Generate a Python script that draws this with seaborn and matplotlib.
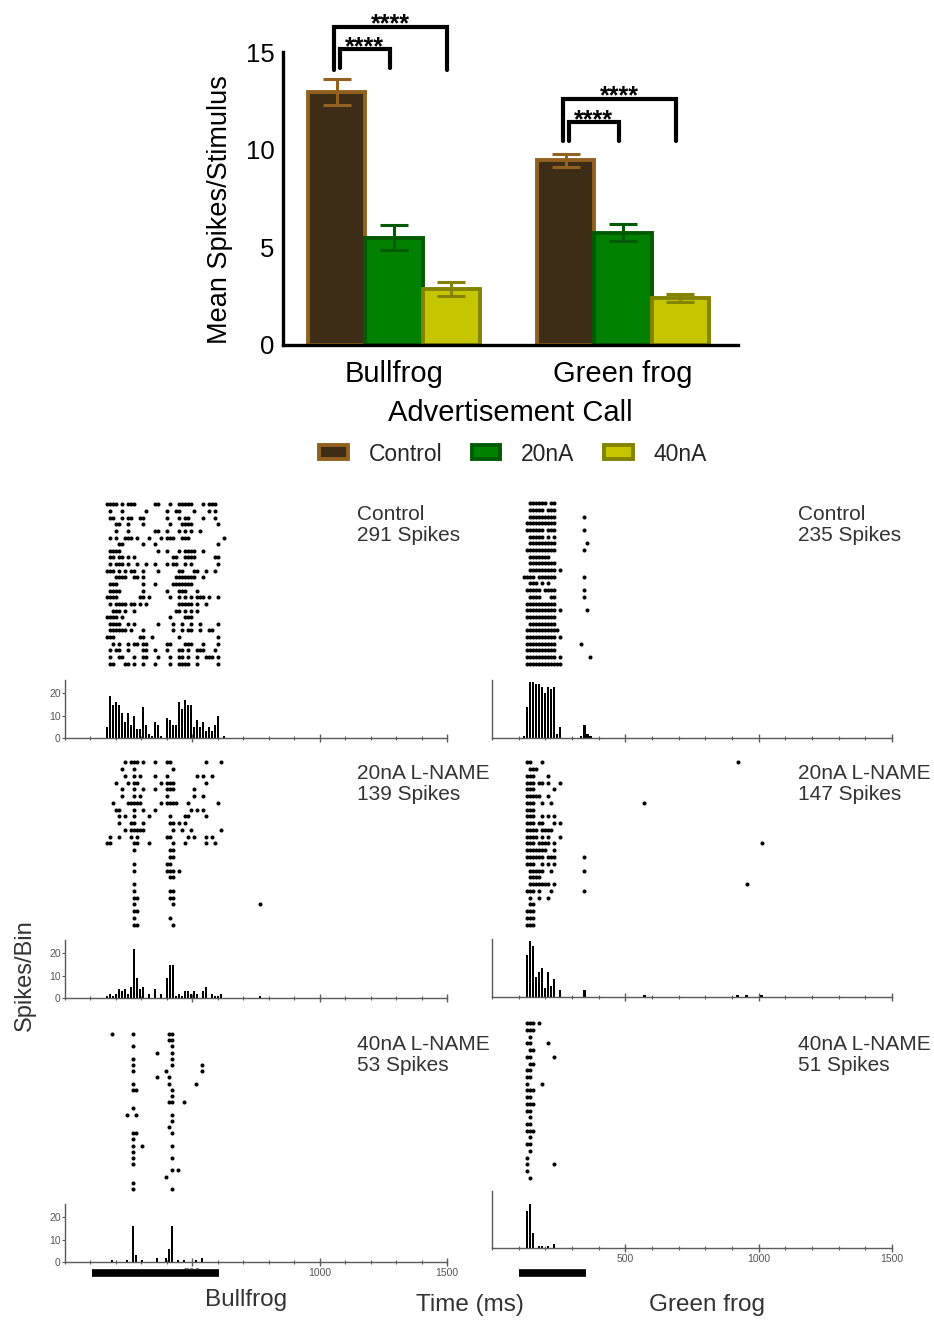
import numpy as np
import pandas as pd
import matplotlib
matplotlib.use("Agg")
import matplotlib.pyplot as plt
import matplotlib.transforms as mtransforms
from matplotlib.patches import Patch
from matplotlib.ticker import MultipleLocator, FixedLocator
import seaborn as sns

# ---------------- data: summary bar chart ----------------
CALLS = ["Bullfrog", "Green frog"]
CONDITIONS = ["Control", "20nA", "40nA"]
MEAN_CONTROL = [12.95, 9.45]
MEAN_20NA = [5.5, 5.75]
MEAN_40NA = [2.85, 2.4]
SEM_CONTROL = [0.65, 0.35]
SEM_20NA = [0.65, 0.45]
SEM_40NA = [0.35, 0.2]
SIG_TEXT = "****"
SIG_PAIRS = [(0, 1), (0, 2)]          # Control vs 20nA, Control vs 40nA
SIG_TOP = [[15.15, 16.3], [11.4, 12.6]]
SIG_LEG = [[14.2, 14.1], [10.45, 10.45]]

# ---------------- data: rasters / PSTH ----------------
TIME_TICKS = [500, 1000, 1500]
TIME_MAX = 1500
STIM_BULLFROG_MS = [105, 605]
STIM_GREENFROG_MS = [100, 352]
PANEL_TITLES = ["Control", "20nA L-NAME", "40nA L-NAME"]
SPIKES_BULLFROG = [291, 139, 53]
SPIKES_GREENFROG = [235, 147, 51]

# spike time bins per trial; time = origin + bin * bin width
BF_BIN_MS = 11.78
GF_BIN_MS = 11.28
BF_ORIGIN_MS = [129.6, 129.6, 137.4]
GF_ORIGIN_MS = [97.7, 97.7, 86.5]

BF_CONTROL = [
    [3, 4, 5, 6, 8, 10, 11, 12, 19, 20, 24, 27, 28, 29, 30, 31, 35, 37, 38, 39],
    [4, 8, 16, 23, 26, 27, 32, 37, 39],
    [4, 5, 8, 10, 11, 14, 15, 23, 27, 29, 30, 35, 39],
    [6, 7, 10, 15, 24, 28, 29, 30, 31, 40],
    [6, 10, 19, 20, 23, 27, 29, 31, 34],
    [4, 6, 9, 10, 11, 13, 17, 21, 23, 24, 25, 28, 29, 30, 42],
    [7, 8, 15, 19, 40],
    [4, 5, 6, 7, 20, 23, 27, 29, 30, 31, 32, 35],
    [4, 5, 7, 8, 10, 12, 25, 26, 29, 30, 31, 32, 39, 40],
    [4, 6, 7, 8, 10, 13, 16, 19, 23, 25, 26, 29, 31, 40],
    [3, 4, 5, 7, 9, 11, 12, 15, 20, 27, 28, 32, 33, 36, 39],
    [6, 7, 8, 9, 12, 13, 15, 26, 27, 28, 29, 30, 31, 32, 35],
    [4, 5, 6, 15, 19, 25, 26, 27, 28, 29, 30, 31],
    [4, 5, 6, 7, 15, 23, 27, 28, 29, 33],
    [3, 4, 5, 6, 14, 15, 17, 24, 27, 29, 31, 33, 34, 35, 37, 40],
    [4, 6, 7, 8, 9, 11, 12, 14, 16, 27, 28, 29, 30, 31, 33, 36],
    [5, 6, 7, 9, 12, 26, 27, 29, 31, 33],
    [3, 4, 5, 6, 8, 24, 29, 30, 31],
    [4, 5, 6, 7, 10, 12, 20, 25, 28, 31, 34, 40],
    [4, 5, 6, 7, 8, 9, 11, 15, 25, 28, 30, 31, 34, 37, 38],
    [3, 4, 5, 14, 15, 18, 27, 40],
    [5, 7, 10, 12, 13, 15, 16, 23, 24, 29, 30, 31, 35, 40],
    [4, 6, 7, 10, 15, 16, 19, 23, 27, 28, 30, 33, 34, 35, 39],
    [4, 7, 8, 12, 15, 16, 20, 24, 27, 28, 30, 33, 36, 37, 38, 40],
    [4, 5, 9, 10, 12, 15, 19, 24, 27, 28, 29, 30, 33, 40],
]
BF_20NA = [
    [9, 11, 12, 13, 15, 19, 23, 24, 36, 41],
    [8, 12, 25],
    [9, 12, 14, 19, 23, 33, 35, 38],
    [6, 10, 12, 13, 21, 23, 24, 25, 36],
    [8, 12, 15, 19, 23, 24, 25, 32],
    [8, 12, 14, 23, 32, 35],
    [5, 10, 11, 12, 13, 14, 21, 23, 24, 25, 26, 30, 40],
    [6, 7, 12, 15, 19, 31, 33, 35],
    [7, 9, 12, 17, 24, 29, 30, 36],
    [7, 11, 12, 15, 24, 25, 27, 29],
    [9, 11, 12, 13, 14, 15, 25, 28, 31, 41],
    [4, 7, 11, 13, 23, 24, 30, 32, 36, 38],
    [3, 4, 12, 13, 17, 25, 29, 36, 39],
    [12, 24, 25],
    [24, 25],
    [12, 23, 24],
    [12, 23, 24, 25, 27],
    [24, 25],
    [12],
    [12, 24, 25],
    [12, 13, 24, 25],
    [12, 25, 54],
    [12, 13],
    [12, 24],
    [12, 13, 25],
]
BF_40NA = [
    [4, 11, 23, 24], [23, 24], [11, 24], [19, 24], [11, 24], [11, 24, 34],
    [11, 22, 34], [19, 23], [11, 23, 32], [11, 12, 24], [24], [23, 24, 28],
    [11], [9, 12, 24], [24], [23], [11, 12, 24], [11], [11, 14, 24], [11],
    [11, 24], [11], [24, 26], [22], [11], [11, 24],
]
GF_CONTROL = [
    [4, 5, 6, 7, 8, 9, 11, 12],
    [4, 5, 6, 7, 8, 10, 11, 12],
    [4, 5, 6, 7, 8, 9, 10, 11, 12, 22],
    [3, 4, 5, 6, 7, 8, 9, 10, 11, 12],
    [3, 4, 5, 6, 7, 8, 10, 11, 12, 22],
    [4, 5, 6, 7, 8, 10, 12],
    [4, 5, 6, 7, 8, 9, 10, 11, 12, 23],
    [3, 4, 5, 6, 7, 8, 9, 10, 11, 12, 22],
    [4, 5, 6, 7, 8, 9, 10],
    [4, 5, 6, 7, 8, 9, 10, 11, 12],
    [4, 5, 6, 7, 8, 9, 10, 11, 12, 14],
    [2, 3, 4, 5, 7, 8, 9, 10, 11, 12, 22],
    [4, 5, 6, 8, 10],
    [3, 4, 5, 6, 7, 9, 10, 11, 12, 22],
    [4, 5, 6, 7, 11, 12, 22],
    [3, 4, 5, 6, 7, 8, 9, 10, 11, 12],
    [3, 4, 5, 6, 7, 8, 9, 10, 11, 12, 14, 23],
    [3, 4, 5, 6, 7, 8, 9, 10, 11, 12],
    [4, 5, 6, 7, 8, 9, 10, 11, 12],
    [3, 4, 5, 6, 7, 8, 9, 10, 11, 12, 13],
    [3, 4, 5, 6, 7, 8, 9, 10, 11, 12, 14],
    [3, 4, 5, 6, 7, 8, 9, 10, 11, 12, 21],
    [3, 4, 5, 6, 7, 8, 9, 10, 11, 12],
    [3, 4, 5, 6, 7, 8, 9, 10, 11, 12, 14, 24],
    [3, 4, 5, 6, 7, 8, 9, 10, 11, 12, 13, 14],
]
GF_20NA = [
    [3, 4, 8, 73], [4, 5, 6], [3, 4, 5, 10], [3, 4, 5, 7, 8, 10, 14],
    [3, 4, 5, 12], [3, 4, 5, 6, 7, 10], [3, 4, 5, 8, 11, 42], [3, 4, 5],
    [3, 4, 5, 8, 10, 12], [3, 4, 5, 7, 8, 12, 14], [3, 4, 5, 6, 8, 9, 10, 11],
    [3, 4, 5, 6, 8, 10, 14], [3, 4, 5, 7, 8, 9, 10, 12, 81],
    [3, 4, 5, 6, 7, 8, 9, 12], [3, 4, 5, 6, 7, 8, 10, 11, 12, 22],
    [3, 4, 5, 8, 10, 12], [4, 5, 6, 7, 8, 11, 22], [4, 5, 6, 7],
    [4, 5, 6, 7, 8, 9, 10, 12, 76], [3, 4, 5, 7, 11, 22], [4, 7, 10],
    [4, 5], [3, 4, 5], [3, 4, 5], [3, 4, 5],
]
GF_40NA = [
    [4, 5, 6, 8], [4, 5, 6], [5], [4, 5, 11], [5, 6], [4, 5, 13], [5, 6],
    [4, 5], [4, 5], [4, 9], [4, 5, 6], [4, 5], [4, 5, 6], [4, 5], [5],
    [4, 5], [4, 5, 6], [5], [4, 5], [5], [4], [4, 13], [4], [5],
]

# ---------------- style ----------------
FILL = {"Control": "#3d2c16", "20nA": "#018001", "40nA": "#c6c600"}
EDGE = {"Control": "#92611f", "20nA": "#005a00", "40nA": "#838300"}
TEXT_GRAY = "#333333"
AXIS_GRAY = "#5a5a5a"

sns.set_style("white")
plt.rcParams["font.family"] = ["Liberation Sans", "DejaVu Sans"]

W, H = 934, 1320
fig = plt.figure(figsize=(W / 100, H / 100), dpi=100)


def px_axes(x0, y0, x1, y1):
    return fig.add_axes([x0 / W, 1 - y1 / H, (x1 - x0) / W, (y1 - y0) / H])


def fx(px):
    return px / W


def fy(py):
    return 1 - py / H


# ---------------- top bar chart ----------------
ax = px_axes(283, 52, 738, 345)
df = pd.DataFrame({
    "call": CALLS * 3,
    "condition": np.repeat(CONDITIONS, len(CALLS)),
    "mean": MEAN_CONTROL + MEAN_20NA + MEAN_40NA,
})
means = [MEAN_CONTROL, MEAN_20NA, MEAN_40NA]
sems = [SEM_CONTROL, SEM_20NA, SEM_40NA]
sns.barplot(data=df, x="call", y="mean", hue="condition", order=CALLS,
            hue_order=CONDITIONS, palette=[FILL[c] for c in CONDITIONS],
            saturation=1, width=0.75, errorbar=None, legend=False, ax=ax)
bar_groups = [list(c) for c in ax.containers[:3]]
for cond, bars in zip(CONDITIONS, bar_groups):
    for b in bars:
        b.set_edgecolor(EDGE[cond])
        b.set_linewidth(2.8)
for i, cond in enumerate(CONDITIONS):
    xs = [b.get_x() + b.get_width() / 2 for b in bar_groups[i]]
    ax.errorbar(xs, means[i], yerr=sems[i], fmt="none", ecolor=EDGE[cond],
                elinewidth=2.2, capsize=10, capthick=2.2, zorder=5)

for g in range(len(CALLS)):
    xc = [bar_groups[i][g].get_x() + bar_groups[i][g].get_width() / 2 for i in range(3)]
    for k, (a, b) in enumerate(SIG_PAIRS):
        x0 = xc[a] + (0.013 if k == 0 else -0.013)
        x1 = xc[b] - 0.018
        top, leg = SIG_TOP[g][k], SIG_LEG[g][k]
        ax.plot([x0, x0, x1, x1], [leg, top, top, leg], color="black", lw=3,
                clip_on=False, solid_joinstyle="miter", zorder=6)
        ax.text((x0 + x1) / 2, top - 0.25, SIG_TEXT, ha="center", va="baseline",
                fontsize=18, fontweight="bold", color="black", clip_on=False)

ax.set_xlim(-0.485, 1.502)
ax.set_ylim(0, 15)
ax.set_yticks([0, 5, 10, 15])
ax.set_xlabel("")
ax.set_ylabel("")
for s in ["top", "right"]:
    ax.spines[s].set_visible(False)
for s in ["left", "bottom"]:
    ax.spines[s].set_color("black")
    ax.spines[s].set_linewidth(2.4)
ax.tick_params(axis="y", length=0, pad=6, labelsize=18.5, labelcolor="black")
ax.tick_params(axis="x", length=0, pad=11, labelsize=21, labelcolor="black")
ax.set_facecolor("none")

fig.text(fx(220), fy(210), "Mean Spikes/Stimulus", rotation=90, ha="center",
         va="center", fontsize=19.5, color="black")
fig.text(fx(510), fy(413), "Advertisement Call", ha="center", va="center",
         fontsize=21, color="black")
handles = [Patch(facecolor=FILL[c], edgecolor=EDGE[c], linewidth=2.8) for c in CONDITIONS]
fig.legend(handles, CONDITIONS, loc="center", bbox_to_anchor=(fx(513), fy(454)),
           ncol=3, frameon=False, fontsize=16.5, handlelength=1.25, handleheight=0.55,
           handletextpad=0.9, columnspacing=1.3)

# ---------------- rasters and PSTHs ----------------
RASTER_BOXES = {
    ("BF", 0): (65, 501, 447, 667), ("GF", 0): (492, 500, 892, 667),
    ("BF", 1): (65, 759, 447, 928), ("GF", 1): (492, 759, 892, 928),
    ("BF", 2): (65, 1031, 447, 1192), ("GF", 2): (492, 1020, 892, 1181),
}
HIST_BOXES = {
    ("BF", 0): (65, 680, 447, 738), ("GF", 0): (492, 680, 892, 738),
    ("BF", 1): (65, 940, 447, 998), ("GF", 1): (492, 939, 892, 997),
    ("BF", 2): (65, 1204, 447, 1262), ("GF", 2): (492, 1191, 892, 1248),
}
TEXT_TOPS = {0: 505, 1: 764, 2: 1035}
TEXT_X = {"BF": 357, "GF": 798}
STIM_Y_FRAC = {"BF": -0.19, "GF": -0.44}

datasets = {
    "BF": ([BF_CONTROL, BF_20NA, BF_40NA], BF_ORIGIN_MS, BF_BIN_MS, SPIKES_BULLFROG, STIM_BULLFROG_MS),
    "GF": ([GF_CONTROL, GF_20NA, GF_40NA], GF_ORIGIN_MS, GF_BIN_MS, SPIKES_GREENFROG, STIM_GREENFROG_MS),
}

for key, (trial_sets, origins, binw, counts, stim) in datasets.items():
    for r in range(3):
        trials = trial_sets[r]
        t = [origins[r] + binw * b for tr in trials for b in tr]
        y = [i for i, tr in enumerate(trials) for _ in tr]

        axr = px_axes(*RASTER_BOXES[(key, r)])
        sns.scatterplot(x=t, y=y, marker="o", s=8.5, color="black", linewidth=0, ax=axr)
        axr.set_xlim(0, TIME_MAX)
        axr.set_ylim(len(trials) - 0.5, -0.5)
        axr.axis("off")

        axh = px_axes(*HIST_BOXES[(key, r)])
        edges = np.arange(origins[r] - binw / 2, TIME_MAX + binw, binw)
        sns.histplot(x=t, bins=edges, color="black", alpha=1, linewidth=0,
                     shrink=0.85, ax=axh)
        axh.set_xlim(0, TIME_MAX)
        axh.set_ylim(0, 26)
        axh.set_xlabel("")
        axh.set_ylabel("")
        axh.set_facecolor("none")
        for s in ["top", "right"]:
            axh.spines[s].set_visible(False)
        for s in ["left", "bottom"]:
            axh.spines[s].set_visible(True)
            axh.spines[s].set_color(AXIS_GRAY)
            axh.spines[s].set_linewidth(1.0)
        axh.xaxis.set_major_locator(FixedLocator(TIME_TICKS))
        axh.xaxis.set_minor_locator(MultipleLocator(100))
        axh.tick_params(axis="x", which="major", direction="inout", length=6, width=1,
                        color=AXIS_GRAY, labelsize=7.5, labelcolor="#555555", pad=1.5,
                        labelbottom=(r == 2), bottom=True)
        axh.tick_params(axis="x", which="minor", direction="inout", length=3, width=0.8,
                        color=AXIS_GRAY, bottom=True)
        if key == "BF":
            axh.set_yticks([0, 10, 20])
            axh.tick_params(axis="y", length=2, width=0.8, color=AXIS_GRAY, pad=1,
                            labelsize=7.5, labelcolor="#555555", left=True)
        else:
            axh.set_yticks([])

        fig.text(fx(TEXT_X[key]), fy(TEXT_TOPS[r]),
                 f"{PANEL_TITLES[r]}\n{counts[r]} Spikes", ha="left", va="top",
                 fontsize=15, color=TEXT_GRAY, linespacing=1.15)

        if r == 2:
            trans = mtransforms.blended_transform_factory(axh.transData, axh.transAxes)
            axh.plot(stim, [STIM_Y_FRAC[key]] * 2, transform=trans, color="black",
                     lw=5.5, solid_capstyle="butt", clip_on=False, zorder=6)

fig.text(fx(25), fy(975), "Spikes/Bin", rotation=90, ha="center", va="center",
         fontsize=17, color=TEXT_GRAY)
fig.text(fx(246), fy(1300), "Bullfrog", ha="center", va="center", fontsize=17.5,
         color=TEXT_GRAY)
fig.text(fx(470), fy(1305), "Time (ms)", ha="center", va="center", fontsize=17.5,
         color=TEXT_GRAY)
fig.text(fx(707), fy(1305), "Green frog", ha="center", va="center", fontsize=17.5,
         color=TEXT_GRAY)

fig.savefig("out.png", dpi=100, facecolor="white")
